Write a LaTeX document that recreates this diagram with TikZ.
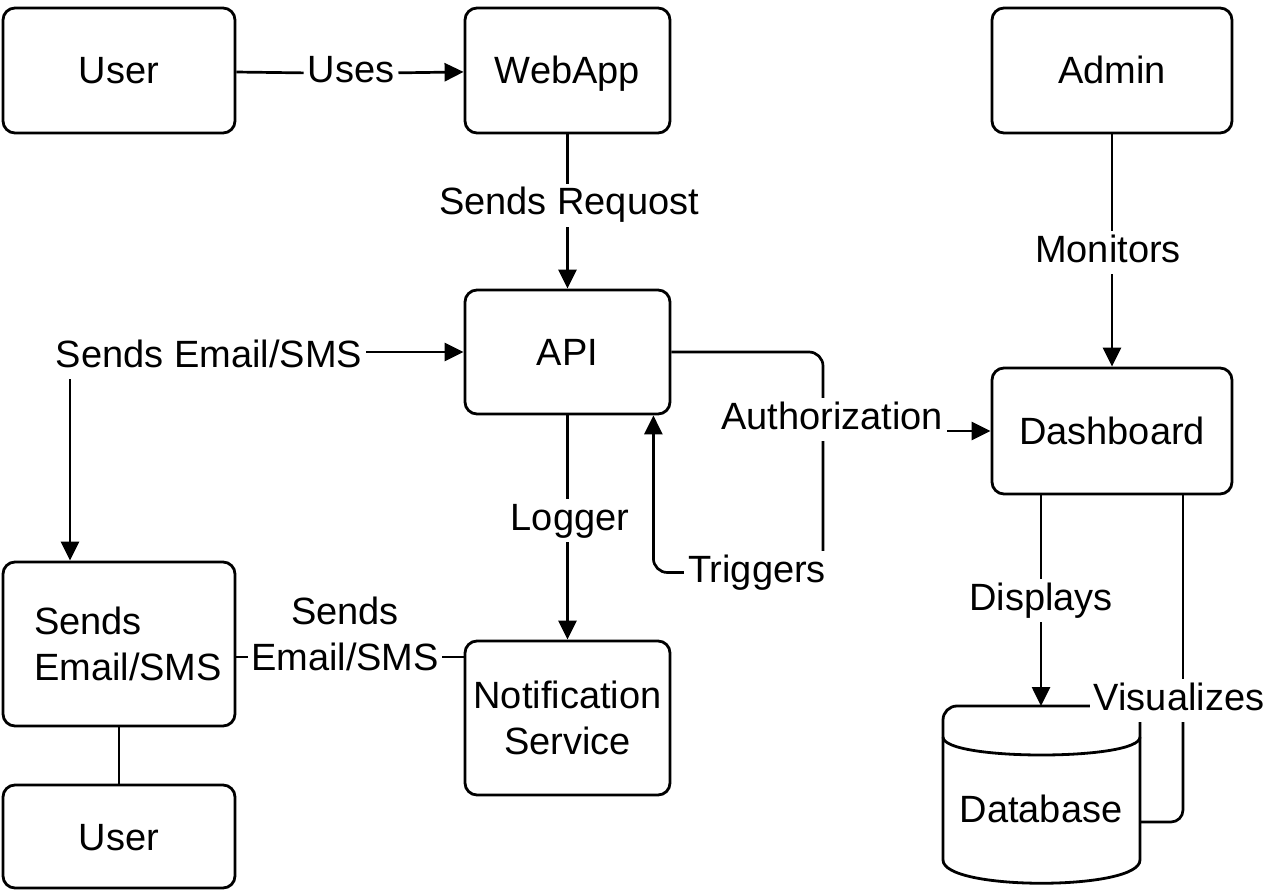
\documentclass[tikz,border=0pt]{standalone}
\usepackage{fontspec}
\setmainfont{Liberation Sans}
\usetikzlibrary{arrows.meta}
\begin{document}
\begin{tikzpicture}[x=1pt,y=-1pt,
  every node/.style={font=\fontsize{38}{46}\selectfont},
  box/.style={draw, rounded corners=12pt, line width=2.8pt, inner sep=0pt},
  one/.style={text height=27pt, text depth=0pt},
  lab/.style={fill=white, inner sep=4pt, text height=27pt, text depth=8pt, anchor=base},
  conn/.style={line width=2.7pt},
  arr/.style={conn, -{Triangle[length=19pt,width=18pt]}},
]
\useasboundingbox (0,0) rectangle (1264,896);

% boxes
\node[box, one, minimum width=232pt, minimum height=125pt] (user1) at (119,70.5) {User};
\node[box, one, minimum width=205pt, minimum height=125pt] (webapp) at (567.5,70.5) {WebApp};
\node[box, one, minimum width=240pt, minimum height=125pt] (admin) at (1112,70.5) {Admin};
\node[box, one, minimum width=205pt, minimum height=124pt] (api) at (567.5,352) {API};
\node[box, one, minimum width=240pt, minimum height=126pt] (dash) at (1112,431) {Dashboard};
\node[box, align=left, minimum width=232pt, minimum height=164pt] (sbox) at (119,644) {\hspace*{18pt}Sends\\\hspace*{18pt}Email/SMS};
\node[box, align=center, minimum width=205pt, minimum height=154pt] (notif) at (567.5,718) {Notification\\Service};
\node[box, one, minimum width=232pt, minimum height=103pt] (user2) at (119,836.5) {User};

% database cylinder
\draw[line width=2.8pt, rounded corners=14pt] (943,860) -- (943,706) -- (1140,706) -- (1140,860);
\draw[line width=2.8pt] (943,860) .. controls (943,891) and (1140,891) .. (1140,860);
\draw[line width=2.8pt] (943,737) .. controls (943,761) and (1140,761) .. (1140,737);
\node[one] (db) at (1041,808.5) {Database};
\coordinate (dbtop) at (1041,706);
\coordinate (dbright) at (1140,822);

% User -> WebApp
\node[lab] (uses) at (351,83) {Uses};
\draw[conn] (user1) -- (uses);
\draw[arr] (uses) -- (webapp);

% WebApp -> API
\node[lab] (req) at (569,215) {Sends Requost};
\draw[conn] (webapp.south) -- (webapp.south |- req.north);
\draw[arr] (req.south -| api.north) -- (api.north);

% Admin -> Dashboard
\node[lab] (mon) at (1108,262) {Monitors};
\draw[conn] (admin.south) -- (admin.south |- mon.north);
\draw[arr] (mon.south -| dash.north) -- (dash.north);

% Sends Email/SMS label
\node[lab] (em) at (209,367) {Sends Email/SMS};
\draw[arr] (em.east |- api.west) -- (api.west);
\draw[arr] (70,0 |- em.south) -- (sbox.north -| 70,0);

% API -> Notification
\node[lab] (log) at (570,530) {Logger};
\draw[conn] (api.south) -- (api.south |- log.north);
\draw[arr] (log.south -| notif.north) -- (notif.north);

% Sends box -- Notification
\node[fill=white, inner sep=3pt, align=center] (mid) at (345,634) {Sends\\Email/SMS};
\coordinate (m) at (0,657);
\draw[conn] (sbox.east |- m) -- (mid.west |- m);
\draw[conn] (mid.east |- m) -- (notif.west |- m);

% Sends box -- User
\draw[conn] (sbox.south) -- (user2.north);

% API -> Triggers -> API, Authorization -> Dashboard
\node[lab] (trig) at (757,582) {Triggers};
\draw[conn, rounded corners=14pt] (api.east) -| (trig.north -| 823,0);
\draw[arr, rounded corners=14pt] (trig.west) -| ([xshift=-18pt]api.south east);
\node[lab] (auth) at (832,429) {Authorization};
\draw[arr] (auth.east |- dash.west) -- (dash.west);

% Dashboard -> Database
\node[lab] (disp) at (1041,610) {Displays};
\draw[conn] (dash.south -| disp) -- (disp.north);
\draw[arr] (disp.south) -- (dbtop);

\node[lab] (vis) at (1179,710) {Visualizes};
\draw[conn] (dash.south -| 1183,0) -- (vis.north -| 1183,0);
\draw[conn, rounded corners=12pt] (vis.south -| 1183,0) |- (dbright);
\end{tikzpicture}
\end{document}
